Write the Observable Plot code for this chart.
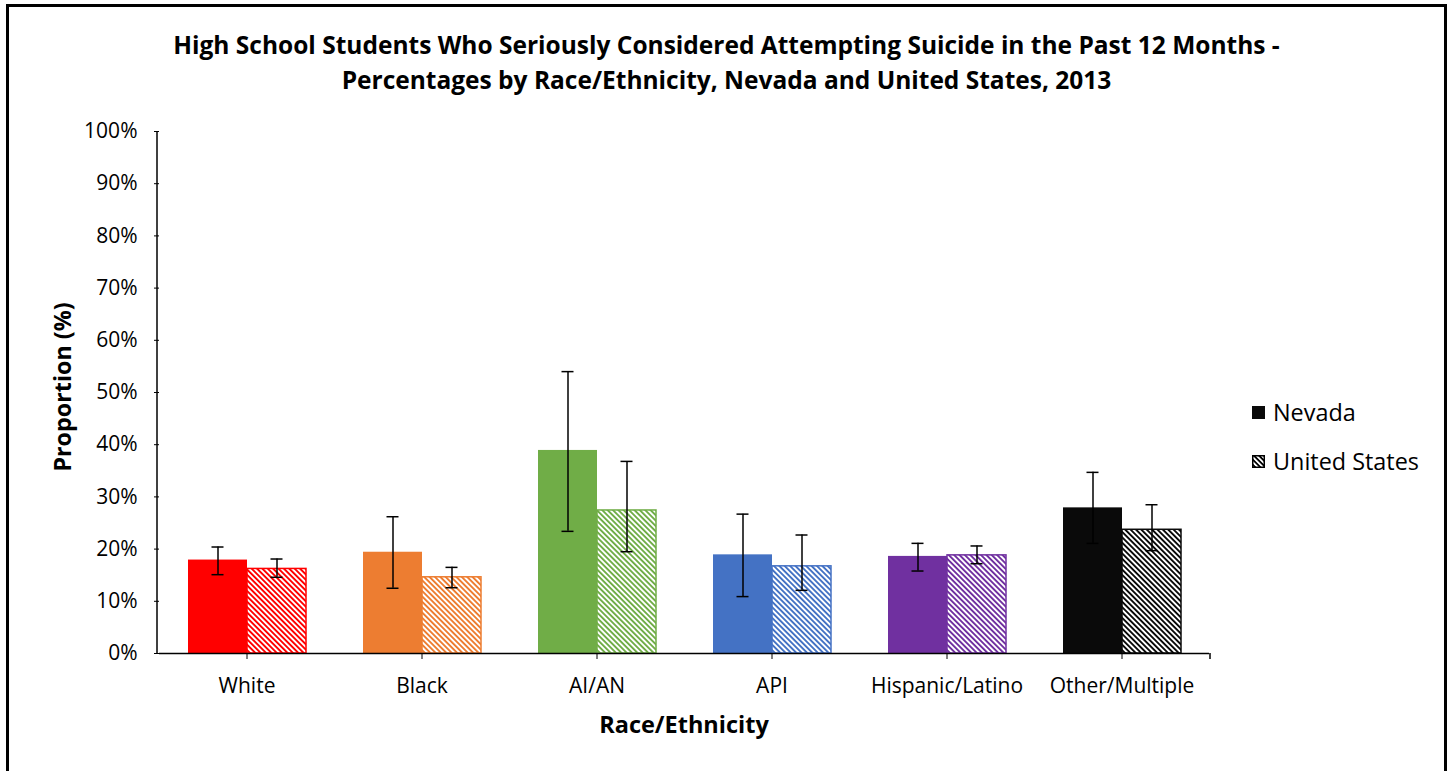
<!DOCTYPE html>
<html>
<head>
<meta charset="utf-8">
<script src="https://cdn.jsdelivr.net/npm/d3@7"></script>
<script src="https://cdn.jsdelivr.net/npm/@observablehq/plot@0.6"></script>
<style>
  html, body { margin: 0; padding: 0; background: #fff; }
  #wrap { position: relative; width: 1453px; height: 771px; overflow: hidden; font-family: "Open Sans", Lato, sans-serif; color: #000; }
  #frame { position: absolute; left: 6px; top: 4px; width: 1435px; height: 820px; border: 3px solid #000; box-sizing: content-box; }
  #title { position: absolute; left: 0; top: 27px; width: 1453px; text-align: center; font-weight: bold; font-size: 24.5px; line-height: 35px; }
  #title div { width: 1453px; text-align: center; }
  #chart { position: absolute; left: 0; top: 100px; }
  #ylabel { position: absolute; left: 62px; top: 387px; transform: translate(-50%, -50%) rotate(-90deg); font-weight: bold; font-size: 23.3px; white-space: nowrap; }
  #xlabel { position: absolute; left: 684px; top: 724px; transform: translate(-50%, -50%); font-weight: bold; font-size: 23.5px; white-space: nowrap; }
  #legend { position: absolute; left: 1252px; top: 398px; font-size: 23.4px; }
  .item { display: flex; align-items: center; height: 28px; margin-bottom: 21px; }
  .item svg { margin-right: 8px; }
</style>
</head>
<body>
<div id="wrap">
  <div id="frame"></div>
  <div id="title">
    <div>High School Students Who Seriously Considered Attempting Suicide in the Past 12 Months -</div>
    <div>Percentages by Race/Ethnicity, Nevada and United States, 2013</div>
  </div>
  <div id="chart"></div>
  <div id="ylabel">Proportion (%)</div>
  <div id="xlabel">Race/Ethnicity</div>
  <div id="legend">
    <div class="item"><svg width="13" height="13"><rect x="0" y="0" width="13" height="13" fill="#0a0a0a"/></svg><span>Nevada</span></div>
    <div class="item"><svg width="13" height="13"><defs><pattern id="legpat" patternUnits="userSpaceOnUse" width="3.6" height="3.6" patternTransform="rotate(-45)"><rect width="3.6" height="3.6" fill="#fff"/><rect width="1.8" height="3.6" fill="#000"/></pattern></defs><rect x="0.75" y="0.75" width="11.5" height="11.5" fill="url(#legpat)" stroke="#000" stroke-width="1.5"/></svg><span>United States</span></div>
  </div>
</div>
<script>
const categories = ["White", "Black", "AI/AN", "API", "Hispanic/Latino", "Other/Multiple"];
const series = ["Nevada", "United States"];
const colors = ["#FF0000", "#ED7D31", "#70AD47", "#4472C4", "#7030A0", "#0a0a0a"];
const nevada = [17.9, 19.4, 38.9, 18.9, 18.6, 27.9];
const nevadaLo = [15.1, 12.5, 23.4, 10.9, 15.8, 21.1];
const nevadaHi = [20.4, 26.2, 54.0, 26.7, 21.1, 34.7];
const us = [16.2, 14.6, 27.4, 16.7, 18.8, 23.7];
const usLo = [14.6, 12.6, 19.5, 12.1, 17.2, 19.7];
const usHi = [18.1, 16.5, 36.8, 22.7, 20.6, 28.5];
const yTicks = [0, 10, 20, 30, 40, 50, 60, 70, 80, 90, 100];

const data = [];
categories.forEach((c, i) => {
  data.push({cat: c, series: series[0], value: nevada[i], lo: nevadaLo[i], hi: nevadaHi[i],
             fill: colors[i], stroke: "none"});
  data.push({cat: c, series: series[1], value: us[i], lo: usLo[i], hi: usHi[i],
             fill: `url(#pat${i})`, stroke: colors[i]});
});

const W = 1453, H = 671;
const mL = 157, mR = 243, mT = 31, mB = 118;

const fig = Plot.plot({
  width: W, height: H,
  marginLeft: mL, marginRight: mR, marginTop: mT, marginBottom: mB,
  style: {fontFamily: "'Open Sans', Lato, sans-serif", fontSize: "21px", color: "#000", background: "transparent"},
  fx: {domain: categories, padding: 0, label: null},
  x: {domain: series, paddingInner: 0, paddingOuter: 0.4625, axis: null},
  y: {domain: [0, 100], label: null},
  color: {type: "identity"},
  marks: [
    Plot.axisY({ticks: yTicks, tickFormat: d => d + "%", tickSize: 5, tickPadding: 17, label: null, stroke: "#000"}),
    Plot.axisFx({anchor: "bottom", tickSize: 6, tickPadding: 19, label: null}),
    Plot.barY(data, {fx: "cat", x: "series", y: "value", fill: "fill", stroke: "stroke", strokeWidth: 1.5, inset: 0}),
    Plot.ruleY([0], {stroke: "#000", strokeWidth: 1.5}),
    Plot.ruleX(data, {fx: "cat", x: "series", y1: "lo", y2: "hi", stroke: "#000", strokeWidth: 1.5}),
    Plot.tickY(data, {fx: "cat", x: "series", y: "hi", stroke: "#000", strokeWidth: 1.5, insetLeft: 23.5, insetRight: 23.5}),
    Plot.tickY(data, {fx: "cat", x: "series", y: "lo", stroke: "#000", strokeWidth: 1.5, insetLeft: 23.5, insetRight: 23.5})
  ]
});

// pattern defs for the hatched United States bars
const svg = d3.select(fig);
const defs = svg.insert("defs", ":first-child");
colors.forEach((col, i) => {
  const p = defs.append("pattern")
    .attr("id", `pat${i}`)
    .attr("patternUnits", "userSpaceOnUse")
    .attr("width", 3.8).attr("height", 3.8)
    .attr("patternTransform", "rotate(-45)");
  p.append("rect").attr("width", 3.8).attr("height", 3.8).attr("fill", "#fff");
  p.append("rect").attr("width", 1.9).attr("height", 3.8).attr("fill", col);
});

// y axis line and right-end category tick, placed with the plot's own y scale
const ys = fig.scale("y");
const y0 = ys.apply(0), y100 = ys.apply(100);
svg.append("line").attr("x1", mL).attr("x2", mL).attr("y1", y100).attr("y2", y0)
  .attr("stroke", "#000").attr("stroke-width", 1.5);
svg.append("line").attr("x1", W - mR).attr("x2", W - mR).attr("y1", y0).attr("y2", y0 + 6)
  .attr("stroke", "#000").attr("stroke-width", 1.5);

document.getElementById("chart").appendChild(fig);
</script>
</body>
</html>
